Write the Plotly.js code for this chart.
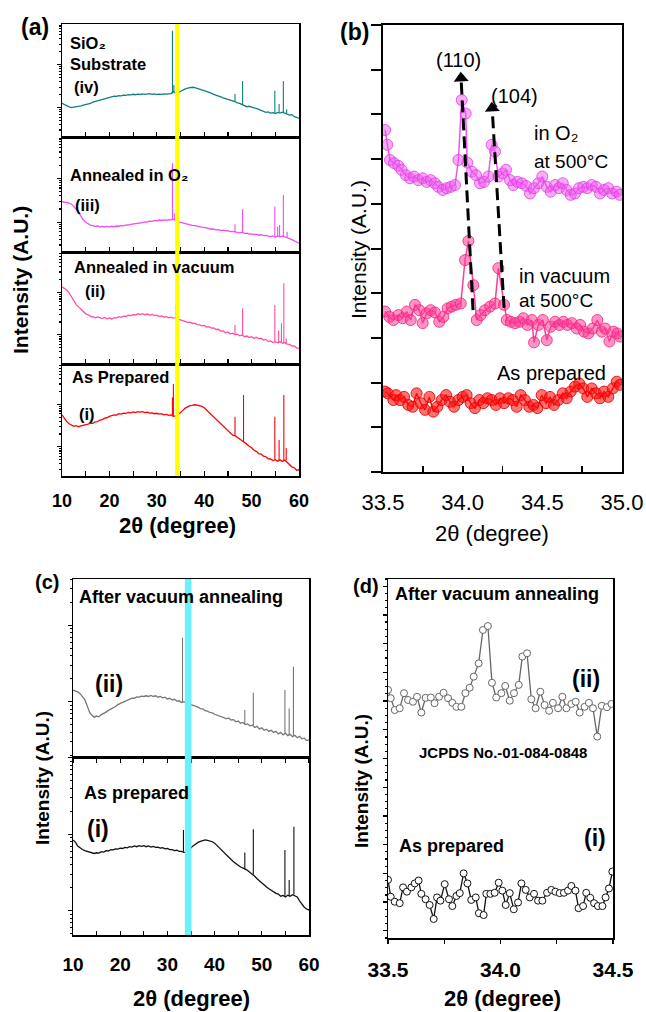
<!DOCTYPE html>
<html><head><meta charset="utf-8">
<script src="https://cdn.plot.ly/plotly-3.0.1.min.js"></script>
<style>html,body{margin:0;padding:0;background:#fff;}#chart{width:646px;height:1012px;}</style>
</head><body><div id="chart"></div>
<script>
const W = 646, H = 1012;
const FONT = 'Liberation Sans, Arial, Helvetica, sans-serif';

// ---------- shared 2-theta grid for panels (a) and (c) ----------
const gridA = [10,10.5,11,11.5,12,12.5,13,13.5,14,14.5,15,15.5,16,16.5,17,17.5,18,18.5,19,19.5,20,20.5,21,21.5,22,22.5,23,23.5,24,24.5,25,25.5,26,26.5,27,27.5,28,28.5,29,29.5,30,30.5,31,31.5,32,32.5,33,33.5,34,34.5,35,35.5,36,36.5,37,37.5,38,38.5,39,39.5,40,40.5,41,41.5,42,42.5,43,43.5,44,44.5,45,45.5,46,46.5,47,47.5,48,48.5,49,49.5,50,50.5,51,51.5,52,52.5,53,53.5,54,54.5,55,55.5,56,56.5,57,57.5,58,58.5,59,59.5,60];

// ---------- panel (a) ----------
const aIV_y = [2.98,2.85,2.74,2.66,2.60,2.64,2.62,2.72,2.76,2.82,
2.86,2.96,2.98,3.08,3.14,3.24,3.30,3.36,3.42,3.50,
3.55,3.56,3.62,3.60,3.66,3.64,3.70,3.68,3.74,3.72,
3.78,3.74,3.80,3.76,3.82,3.78,3.81,3.84,3.78,3.82,
3.76,3.80,3.77,3.82,3.79,3.83,3.84,4.02,3.88,3.92,
4.04,4.14,4.26,4.32,4.38,4.40,4.36,4.32,4.24,4.18,
4.10,4.04,3.94,3.88,3.78,3.72,3.62,3.56,3.46,3.40,
3.32,3.26,3.18,3.14,3.02,2.98,2.86,2.80,2.68,2.72,
2.62,2.58,2.54,2.46,2.40,2.30,2.18,2.22,2.12,2.16,
2.08,2.18,2.12,2.20,2.10,2.06,1.94,1.98,1.80,1.74,1.65];
const aIV_pkX = [33.3,33.6,46.5,48.1,54.9,55.8,56.7,57.4];
const aIV_pkBase = [3.84,3.95,3.14,2.86,2.10,2.16,2.18,2.08];
const aIV_pkTop = [9.41,4.60,3.81,4.96,4.10,2.92,4.96,2.45];

const aIII_y = [4.37,4.34,4.30,4.26,4.16,3.98,3.72,3.42,3.06,2.80,
2.58,2.44,2.34,2.30,2.22,2.26,2.18,2.22,2.16,2.22,
2.18,2.24,2.20,2.26,2.24,2.30,2.28,2.36,2.34,2.40,
2.42,2.46,2.48,2.54,2.56,2.62,2.60,2.68,2.66,2.74,
2.70,2.78,2.74,2.80,2.76,2.82,2.80,2.86,2.70,2.62,
2.58,2.52,2.48,2.42,2.40,2.32,2.30,2.24,2.22,2.16,
2.14,2.08,2.06,1.98,2.00,1.92,1.94,1.86,1.90,1.84,
1.86,1.78,1.80,1.74,1.72,1.66,1.70,1.62,1.64,1.56,
1.58,1.52,1.54,1.46,1.50,1.42,1.44,1.36,1.34,1.40,
1.30,1.38,1.32,1.40,1.34,1.26,1.16,1.08,0.98,0.86,0.76];
const aIII_pkX = [33.3,33.7,46.5,48.1,54.9,55.5,55.9,56.7,57.5];
const aIII_pkBase = [2.82,2.80,1.74,1.70,1.32,1.36,1.32,1.40,1.26];
const aIII_pkTop = [7.71,3.36,2.41,3.74,3.94,2.20,2.35,4.96,1.77];

const aII_y = [6.90,6.78,6.61,6.36,6.01,5.64,5.30,5.10,4.86,4.70,
4.48,4.40,4.26,4.22,4.12,4.20,4.14,4.06,4.16,4.04,
4.12,4.02,4.14,4.10,4.22,4.16,4.28,4.24,4.36,4.30,
4.42,4.36,4.48,4.42,4.50,4.40,4.46,4.36,4.42,4.32,
4.36,4.24,4.30,4.18,4.22,4.12,4.18,4.10,4.14,3.98,
3.94,3.86,3.82,3.72,3.74,3.62,3.64,3.52,3.50,3.40,
3.44,3.30,3.34,3.20,3.22,3.08,3.10,2.94,2.96,2.78,
2.86,2.70,2.76,2.62,2.66,2.52,2.60,2.44,2.50,2.36,
2.44,2.30,2.38,2.26,2.30,2.14,2.20,2.02,2.06,1.92,
2.00,1.90,1.98,1.84,1.92,1.78,1.76,1.60,1.62,1.44,1.40];
const aII_pkX = [34.0,46.5,48.1,54.9,55.7,56.3,56.8,57.3];
const aII_pkBase = [4.14,2.62,2.60,1.98,1.92,1.90,1.84,1.80];
const aII_pkTop = [5.27,3.48,4.97,5.27,3.00,3.63,7.20,2.30];

const aI_y = [5.45,5.12,4.85,4.66,4.55,4.44,4.50,4.40,4.48,4.52,
4.60,4.64,4.72,4.70,4.84,4.86,5.00,5.04,5.16,5.20,
5.32,5.38,5.46,5.44,5.56,5.52,5.62,5.60,5.68,5.64,
5.72,5.66,5.74,5.70,5.74,5.66,5.70,5.62,5.64,5.56,
5.60,5.52,5.56,5.46,5.50,5.42,5.46,5.32,5.36,5.48,
5.64,5.86,6.06,6.20,6.28,6.30,6.36,6.32,6.30,6.22,
6.10,5.90,5.72,5.50,5.30,5.08,4.86,4.66,4.44,4.26,
4.04,3.86,3.64,3.60,3.42,3.32,3.14,3.00,2.80,2.66,
2.52,2.30,2.20,2.00,1.96,1.78,1.72,1.54,1.52,1.38,
1.46,1.32,1.44,1.30,1.42,1.24,1.06,0.82,0.74,0.52,0.56];
const aI_pkX = [33.3,33.5,46.5,48.3,54.9,55.8,56.8,57.3];
const aI_pkBase = [5.40,5.32,3.60,3.10,1.46,1.40,1.36,1.40];
const aI_pkTop = [7.00,8.21,5.30,7.23,5.30,3.21,7.23,2.50];

const yellowLine2theta = 34.3;

// ---------- panel (b) ----------
const bO2_x = [33.513,33.527,33.544,33.569,33.596,33.617,33.644,33.670,33.695,33.722,33.749,33.774,33.799,33.826,33.847,33.875,33.900,33.925,33.952,33.973,33.994,34.019,34.029,34.057,34.084,34.109,34.134,34.161,34.182,34.203,34.224,34.251,34.272,34.297,34.318,34.343,34.371,34.398,34.423,34.448,34.475,34.500,34.528,34.553,34.580,34.605,34.628,34.653,34.678,34.705,34.730,34.757,34.782,34.810,34.837,34.862,34.887,34.914,34.939,34.967,34.987];
const bO2_y = [7.65,7.32,6.98,6.91,6.85,6.76,6.64,6.57,6.61,6.53,6.57,6.49,6.53,6.46,6.38,6.31,6.35,6.38,6.42,6.98,8.32,8.02,6.92,6.72,6.64,6.46,6.49,6.61,7.32,7.17,6.61,6.68,6.76,6.53,6.42,6.49,6.46,6.40,6.23,6.35,6.46,6.61,6.38,6.27,6.42,6.35,6.46,6.31,6.20,6.23,6.35,6.38,6.35,6.42,6.38,6.23,6.31,6.35,6.23,6.27,6.20];
const bVac_x = [33.513,33.540,33.565,33.596,33.624,33.649,33.674,33.701,33.728,33.749,33.774,33.799,33.826,33.853,33.879,33.906,33.931,33.958,33.988,34.015,34.036,34.067,34.088,34.113,34.140,34.172,34.203,34.224,34.260,34.277,34.302,34.329,34.356,34.381,34.406,34.434,34.448,34.475,34.503,34.528,34.553,34.580,34.607,34.632,34.657,34.685,34.716,34.737,34.762,34.789,34.816,34.845,34.873,34.894,34.921,34.946,34.971,34.987];
const bVac_y = [3.59,3.47,3.40,3.51,3.44,3.59,3.40,3.74,3.62,3.33,3.55,3.62,3.57,3.36,3.47,3.66,3.70,3.74,3.77,4.74,5.17,4.18,3.40,3.51,3.62,3.70,3.77,4.56,3.74,3.40,3.36,3.33,3.36,3.44,3.29,3.40,2.90,3.29,3.40,2.95,3.25,3.36,3.29,3.36,3.29,3.33,3.21,3.29,3.14,3.10,3.21,3.40,3.14,3.21,2.92,3.14,3.10,3.03];
const bAs_x = [33.513,33.530,33.565,33.582,33.607,33.632,33.659,33.686,33.711,33.737,33.764,33.791,33.816,33.841,33.868,33.896,33.921,33.946,33.973,34.000,34.025,34.050,34.077,34.105,34.130,34.155,34.182,34.209,34.234,34.260,34.287,34.314,34.339,34.364,34.391,34.418,34.444,34.469,34.496,34.523,34.548,34.573,34.600,34.628,34.653,34.678,34.705,34.732,34.757,34.782,34.810,34.837,34.862,34.887,34.914,34.942,34.967,34.987];
const bAs_y = [1.80,1.76,1.61,1.72,1.61,1.68,1.50,1.46,1.76,1.54,1.39,1.68,1.35,1.46,1.61,1.72,1.57,1.46,1.61,1.68,1.72,1.54,1.43,1.61,1.54,1.65,1.61,1.50,1.65,1.54,1.65,1.61,1.46,1.72,1.61,1.46,1.50,1.43,1.72,1.54,1.68,1.50,1.61,1.76,1.65,1.80,1.91,1.98,1.87,1.68,1.87,1.76,1.65,1.80,1.68,1.87,2.02,1.95];
// peak-shift guide arrows: from the vacuum peak to the O2 peak
const arrow110 = {from:[34.065,3.62], to:[33.99,8.81]};
const arrow104 = {from:[34.26,3.67], to:[34.185,8.14]};

// ---------- panel (c) ----------
const cII_y = [3.76,3.72,3.66,3.56,3.42,3.22,2.88,2.52,2.34,2.24,
2.30,2.26,2.38,2.44,2.52,2.62,2.68,2.78,2.84,2.94,
3.00,3.08,3.12,3.20,3.22,3.30,3.30,3.38,3.36,3.42,
3.40,3.44,3.40,3.46,3.40,3.44,3.36,3.40,3.32,3.36,
3.26,3.30,3.20,3.24,3.14,3.16,3.06,3.10,3.08,2.98,
2.94,2.90,2.84,2.80,2.72,2.70,2.60,2.58,2.50,2.48,
2.40,2.36,2.32,2.26,2.24,2.16,2.18,2.08,2.10,1.98,
2.02,1.90,1.94,1.82,1.86,1.74,1.80,1.66,1.72,1.58,
1.64,1.50,1.56,1.44,1.50,1.38,1.44,1.30,1.38,1.24,
1.34,1.20,1.28,1.14,1.22,1.08,1.16,1.02,1.06,0.92,0.96];
const cII_pkX = [33.2,34.1,46.4,48.2,54.9,55.8,56.7];
const cII_pkBase = [3.06,3.08,1.82,1.80,1.30,1.22,1.16];
const cII_pkTop = [6.70,3.90,2.64,3.61,3.76,2.73,5.07];

const cI_y = [5.34,5.22,5.00,4.88,4.80,4.74,4.70,4.66,4.64,4.58,
4.62,4.60,4.68,4.66,4.74,4.72,4.80,4.78,4.84,4.82,
4.88,4.86,4.92,4.90,4.96,4.94,5.00,4.96,5.02,4.98,
5.02,4.96,5.00,4.94,4.98,4.92,4.94,4.88,4.90,4.84,
4.86,4.80,4.80,4.74,4.76,4.70,4.70,4.64,4.66,4.76,
4.90,5.02,5.12,5.20,5.26,5.30,5.34,5.32,5.30,5.24,
5.16,5.02,4.90,4.76,4.62,4.50,4.36,4.24,4.12,4.00,
3.92,3.82,3.78,3.70,3.62,3.52,3.40,3.30,3.16,3.04,
2.90,2.80,2.70,2.60,2.50,2.44,2.34,2.30,2.18,2.22,
2.14,2.24,2.18,2.26,2.20,2.14,1.92,1.70,1.56,1.46,1.40];
const cI_pkX = [33.4,46.4,48.2,54.9,55.8,56.8];
const cI_pkBase = [4.68,3.70,3.40,2.14,2.18,2.26];
const cI_pkTop = [5.90,4.63,5.94,4.78,3.09,6.08];
const cyanBand = [33.7, 35.1];

// ---------- panel (d) ----------
const dII_x = [33.500,33.512,33.530,33.552,33.571,33.589,33.611,33.629,33.648,33.667,33.690,33.707,33.727,33.747,33.767,33.786,33.804,33.826,33.844,33.863,33.881,33.903,33.922,33.944,33.962,33.981,34.004,34.021,34.041,34.060,34.081,34.097,34.118,34.137,34.156,34.177,34.196,34.216,34.233,34.256,34.275,34.293,34.315,34.334,34.352,34.374,34.393,34.411,34.430,34.450,34.473,34.493];
const dII_y = [6.91,6.68,6.35,6.40,6.82,6.63,6.58,6.72,6.28,6.69,6.70,6.54,6.72,6.83,6.68,6.55,6.44,6.44,6.82,6.97,7.28,7.65,8.58,8.69,7.11,6.70,6.82,7.02,6.61,6.82,7.05,7.84,7.93,6.65,6.40,6.86,6.49,6.33,6.55,6.40,6.72,6.40,6.52,6.58,6.28,6.44,6.55,6.40,5.61,6.47,6.43,6.52];
const dI_x = [33.500,33.512,33.530,33.552,33.567,33.584,33.604,33.619,33.636,33.648,33.667,33.685,33.703,33.718,33.733,33.752,33.771,33.786,33.804,33.819,33.836,33.853,33.870,33.890,33.904,33.925,33.937,33.955,33.974,33.992,34.008,34.023,34.041,34.059,34.078,34.093,34.112,34.130,34.149,34.167,34.186,34.207,34.226,34.244,34.263,34.282,34.300,34.315,34.333,34.347,34.367,34.381,34.399,34.416,34.433,34.453,34.467,34.482,34.497];
const dI_y = [1.62,1.15,1.01,0.97,1.41,1.29,1.41,1.52,1.60,1.23,1.08,0.92,0.53,1.13,1.04,1.50,1.08,0.89,1.17,1.25,1.80,1.52,1.06,1.13,0.69,0.64,1.23,1.23,1.26,1.54,1.32,0.92,1.25,0.80,0.99,1.52,1.34,1.13,1.23,1.04,1.04,1.26,1.34,1.29,1.25,1.26,1.32,1.45,1.32,0.83,0.89,1.26,1.12,0.97,0.89,0.89,1.13,1.38,1.85];

const xTicksWide = [10,20,30,40,50,60];

// ---------- helpers ----------
function dom(top, bottom){ return [1 - bottom/H, 1 - top/H]; }
function xd(l, r){ return [l/W, r/W]; }
function spikes(xs, bs, ts){ const x=[], y=[]; xs.forEach((v,i)=>{ x.push(v,v,null); y.push(bs[i],ts[i],null); }); return {x, y}; }
function logSet(anchor, dec){
  const maj=[], min=[];
  for (let n=-4; n<=4; n++){
    const b = anchor + n*dec;
    if (b >= 0 && b <= 10) maj.push(b);
    for (let k=2; k<10; k++){ const v = b + Math.log10(k)*dec; if (v > 0 && v < 10) min.push(v); }
  }
  return {maj, min};
}
function base(o){ return Object.assign({showgrid:false, zeroline:false, showline:true, linecolor:'#000', linewidth:1.5, mirror:true, tickcolor:'#000', tickwidth:1.2, fixedrange:true}, o); }

const traces = [];
function xrdCurve(y, pkX, pkB, pkT, color, xa, ya){
  traces.push({x: gridA, y: y, type:'scatter', mode:'lines', line:{color:color, width:1.3}, xaxis:xa, yaxis:ya, hoverinfo:'skip', showlegend:false});
  const s = spikes(pkX, pkB, pkT);
  traces.push({x: s.x, y: s.y, type:'scatter', mode:'lines', line:{color:color, width:1.1}, xaxis:xa, yaxis:ya, hoverinfo:'skip', showlegend:false, connectgaps:false});
}
xrdCurve(aIV_y, aIV_pkX, aIV_pkBase, aIV_pkTop, '#11807a', 'x', 'y');
xrdCurve(aIII_y, aIII_pkX, aIII_pkBase, aIII_pkTop, '#f04cf0', 'x2', 'y2');
xrdCurve(aII_y, aII_pkX, aII_pkBase, aII_pkTop, '#ff4da3', 'x3', 'y3');
xrdCurve(aI_y, aI_pkX, aI_pkBase, aI_pkTop, '#ff0000', 'x4', 'y4');
xrdCurve(cII_y, cII_pkX, cII_pkBase, cII_pkTop, '#777777', 'x6', 'y6');
xrdCurve(cI_y, cI_pkX, cI_pkBase, cI_pkTop, '#111111', 'x7', 'y7');

function bTrace(x, y, fill, edge, lc){
  traces.push({x, y, type:'scatter', mode:'lines+markers', line:{color:lc, width:1.5},
    marker:{size:11, color:fill, line:{color:edge, width:1}}, xaxis:'x5', yaxis:'y5', hoverinfo:'skip', showlegend:false});
}
bTrace(bAs_x, bAs_y, 'rgba(255,20,20,0.6)', 'rgba(230,0,0,0.85)', '#ff0000');
bTrace(bVac_x, bVac_y, 'rgba(255,60,150,0.55)', 'rgba(240,40,130,0.85)', '#ff3c96');
bTrace(bO2_x, bO2_y, 'rgba(240,90,240,0.5)', 'rgba(228,60,228,0.8)', '#ee55ee');

// dashed guide arrows in (b): dashed shaft + triangular head
[arrow110, arrow104].forEach(a=>{
  const dxPx = (a.to[0]-a.from[0]) * (239/1.5);
  const dyPx = (a.to[1]-a.from[1]) * (447/10);
  const ang = Math.atan2(dxPx, dyPx) * 180/Math.PI;
  traces.push({x:[a.from[0], a.to[0]], y:[a.from[1], a.to[1]], type:'scatter', mode:'lines', line:{color:'#000', width:3, dash:'12px,6px'},
    xaxis:'x5', yaxis:'y5', hoverinfo:'skip', showlegend:false});
  traces.push({x:[a.to[0]], y:[a.to[1]], type:'scatter', mode:'markers', marker:{symbol:'triangle-up', size:13, color:'#000', angle:ang, line:{width:0}},
    xaxis:'x5', yaxis:'y5', hoverinfo:'skip', showlegend:false, cliponaxis:false});
});

function dTrace(x, y, col){
  traces.push({x, y, type:'scatter', mode:'lines+markers', line:{color:col, width:1.3},
    marker:{size:7, color:'#ffffff', line:{color:col, width:1}}, xaxis:'x8', yaxis:'y8', hoverinfo:'skip', showlegend:false});
}
dTrace(dII_x, dII_y, '#666666');
dTrace(dI_x, dI_y, '#111111');

// ---------- axes ----------
const aXd = xd(62, 299);
const aYd = [dom(24,137), dom(137,252), dom(252,364), dom(364,476)];
const aLog = logSet(2.6, 3.8);
const tfA = {family:FONT, size:18, color:'#000', weight:'bold'};
const layout = {
  width: W, height: H, autosize:false, margin:{l:0,r:0,t:0,b:0},
  paper_bgcolor:'#fff', plot_bgcolor:'rgba(0,0,0,0)', showlegend:false,
  font:{family:FONT, color:'#000'}
};
const ids = ['', '2', '3', '4'];
ids.forEach((id, i)=>{
  layout['xaxis'+id] = base({domain:aXd, anchor:'y'+id, range:[10,60], tickmode:'array', tickvals:xTicksWide,
    ticks:'inside', ticklen:5, minor:{dtick:5, tick0:10, ticks:'inside', ticklen:5, tickcolor:'#000'},
    showticklabels: i===3, tickfont:tfA, ticklabelstandoff:8});
  layout['yaxis'+id] = base({domain:aYd[i], anchor:'x'+id, range:[0,10], showticklabels:false, ticks:'outside', ticklen:4,
    tickmode:'array', tickvals:aLog.maj, minor:{tickmode:'array', tickvals:aLog.min, ticks:'outside', ticklen:2, tickcolor:'#000'}});
});
// (b)
layout.xaxis5 = base({domain:xd(383,622), anchor:'y5', range:[33.5,35.0], tickmode:'array', tickvals:[33.5,34,34.5,35], ticktext:['33.5','34.0','34.5','35.0'],
  ticks:'inside', ticklen:6, tickwidth:1.8, linewidth:2, minor:{dtick:0.25, tick0:33.5, ticks:'inside', ticklen:6, tickcolor:'#000', tickwidth:1.8},
  tickfont:{family:FONT, size:22, color:'#000'}, ticklabelstandoff:10});
layout.yaxis5 = base({domain:dom(25,472), anchor:'x5', range:[0,10], dtick:1, tick0:0, ticks:'outside', ticklen:10, tickwidth:2, linewidth:2, showticklabels:false});
// (c)
const cXd = xd(73, 309);
const cLogTop = logSet(3.1, 4.3), cLogBot = logSet(5.66, 4.3);
layout.xaxis6 = base({domain:cXd, anchor:'y6', range:[10,60], tickmode:'array', tickvals:xTicksWide, ticks:'outside', ticklen:4,
  minor:{dtick:5, tick0:10, ticks:'outside', ticklen:4, tickcolor:'#000'}, showticklabels:false});
layout.yaxis6 = base({domain:dom(579,757), anchor:'x6', range:[0,10], showticklabels:false, ticks:'outside', ticklen:4,
  tickmode:'array', tickvals:cLogTop.maj, minor:{tickmode:'array', tickvals:cLogTop.min, ticks:'outside', ticklen:2, tickcolor:'#000'}});
layout.xaxis7 = base({domain:cXd, anchor:'y7', range:[10,60], tickmode:'array', tickvals:xTicksWide, ticks:'inside', ticklen:4,
  minor:{dtick:5, tick0:10, ticks:'inside', ticklen:4, tickcolor:'#000'}, tickfont:{family:FONT, size:19, color:'#000', weight:'bold'}, ticklabelstandoff:12});
layout.yaxis7 = base({domain:dom(757,935), anchor:'x7', range:[0,10], showticklabels:false, ticks:'outside', ticklen:4,
  tickmode:'array', tickvals:cLogBot.maj, minor:{tickmode:'array', tickvals:cLogBot.min, ticks:'outside', ticklen:2, tickcolor:'#000'}});
// (d)
layout.xaxis8 = base({domain:xd(388,613), anchor:'y8', range:[33.5,34.5], tickmode:'array', tickvals:[33.5,34,34.5], ticktext:['33.5','34.0','34.5'],
  ticks:'outside', ticklen:4, minor:{dtick:0.25, tick0:33.5, ticks:'outside', ticklen:4, tickcolor:'#000'},
  tickfont:{family:FONT, size:21, color:'#000', weight:'bold'}, ticklabelstandoff:8});
layout.yaxis8 = base({domain:dom(579,938), anchor:'x8', range:[0,10], showticklabels:false, ticks:'outside', ticklen:4, dtick:0.8, tick0:0.2,
  minor:{dtick:0.2, ticks:'outside', ticklen:2, tickcolor:'#000'}});

// ---------- shapes ----------
layout.shapes = [
  {type:'line', xref:'x4', yref:'paper', x0:yellowLine2theta, x1:yellowLine2theta, y0:1-476/H, y1:1-24/H, line:{color:'#ffff00', width:4}, layer:'above'},
  {type:'rect', xref:'x7', yref:'paper', x0:cyanBand[0], x1:cyanBand[1], y0:1-935/H, y1:1-579/H, fillcolor:'#6cf0ff', line:{width:0}, layer:'above'}
];

// ---------- annotations ----------
function T(text, px, py, size, anchor, angle){
  const a = {text, x:px/W, y:1-py/H, xref:'paper', yref:'paper', showarrow:false, xanchor:anchor||'left', yanchor:'middle',
    font:{family:FONT, size:size, color:'#000'}};
  if (angle) a.textangle = angle;
  return a;
}
layout.annotations = [
  T('<b>(a)</b>',35,27,23,'center'),
  T('<b>SiO₂</b>',68,43,16.5),
  T('<b>Substrate</b>',68,64,16.5),
  T('<b>(iv)</b>',72,87,16.5),
  T('<b>Annealed in O₂</b>',68,175,16.5),
  T('<b>(iii)</b>',73,205,16.5),
  T('<b>Annealed in vacuum</b>',72,267,16.5),
  T('<b>(ii)</b>',83,291,16.5),
  T('<b>As Prepared</b>',70,377,16.5),
  T('<b>(i)</b>',77,414,16.5),
  T('<b>Intensity (A.U.)</b>',21,280,21,'center',-90),
  T('<b>2θ (degree)</b>',177,525,22,'center'),

  T('<b>(b)</b>',354,32,23,'center'),
  T('(110)',458,60,20,'center'),
  T('(104)',514,96,20,'center'),
  T('in O₂',532,133,20),
  T('at 500°C',532,162,19),
  T('in vacuum',517,276,20),
  T('at 500°C',517,301,19),
  T('As prepared',495,373,20),
  T('Intensity (A.U.)',358,250,21,'center',-90),
  T('2θ (degree)',492,533,22,'center'),

  T('<b>(c)</b>',47,582,20,'center'),
  T('<b>After vacuum annealing</b>',77,597,18),
  T('<b>(ii)</b>',93,684,23),
  T('<b>As prepared</b>',82,793,18),
  T('<b>(i)</b>',85,829,23),
  T('<b>Intensity (A.U.)</b>',42,778,19,'center',-90),
  T('<b>2θ (degree)</b>',191,998,22,'center'),

  T('<b>(d)</b>',366,586,20,'center'),
  T('<b>After vacuum annealing</b>',393,594,18),
  T('<b>(ii)</b>',570,679,23),
  T('<b>JCPDS No.-01-084-0848</b>',417,752,15),
  T('<b>As prepared</b>',397,846,18),
  T('<b>(i)</b>',582,838,23),
  T('<b>Intensity (A.U.)</b>',361,781,19,'center',-90),
  T('<b>2θ (degree)</b>',502,998,22,'center')
];

Plotly.newPlot('chart', traces, layout, {displayModeBar:false, staticPlot:true});
</script></body></html>
